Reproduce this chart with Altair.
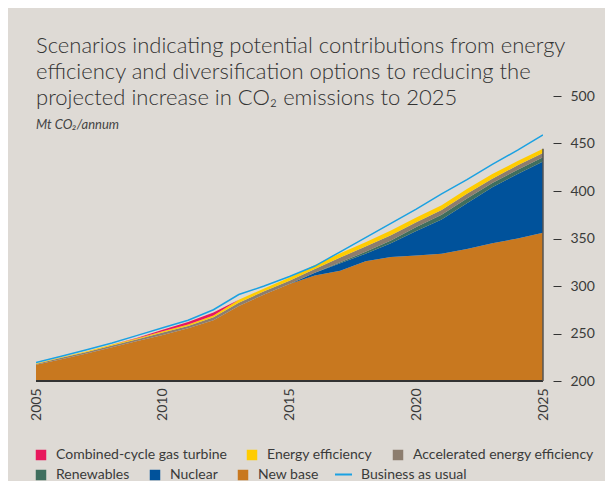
import altair as alt
import pandas as pd

# ---------------- data ----------------
years = list(range(2005, 2026))

new_base = [217, 223, 229, 235.5, 242, 248.5, 255.5, 264, 279, 291, 302,
            311, 316, 326, 330.5, 332, 334, 339, 345, 350, 356]
nuclear = [0, 0, 0, 0, 0, 0, 0, 0, 0, 0, 0,
           3, 8, 8, 14.5, 26, 36, 48, 59, 68, 75]
renewables = [0, 0, 0, 0, 0, 0, 0, 0, 0, 0, 0,
              0, 1, 2, 3, 4, 5, 5, 4.5, 4.5, 4.5]
accel_eff = [1, 1.5, 1.5, 2, 2, 2.5, 2.5, 3, 3.5, 3.5, 3.5,
             4, 5, 5.5, 5.5, 5, 5, 5, 4.5, 4.5, 4.5]
energy_eff = [0.5, 0.5, 0.7, 1, 1, 1.5, 1.5, 2, 3, 3, 3.5,
              4, 4.5, 4.5, 5, 5, 5, 5, 5, 4.5, 4.5]
ccgt = [0, 0, 0, 0, 0.5, 1.5, 2.5, 3, 0, 0, 0,
        0, 0, 0, 0, 0, 0, 0, 0, 0, 0]
business_as_usual = [219.5, 226, 233, 240, 248, 256, 264, 275, 291, 300, 310,
                     321, 336, 351, 366, 381, 397, 412, 428, 443, 459]

# legend rows (top-to-bottom stacking order follows the list order)
legend_row1 = ["Combined-cycle gas turbine", "Energy efficiency", "Accelerated energy efficiency"]
legend_row2 = ["Renewables", "Nuclear", "New base"]
colors_row1 = ["#e8175d", "#ffcc00", "#8c7d6e"]
colors_row2 = ["#3f6e5e", "#00529b", "#c8781f"]
series_names = legend_row1 + legend_row2
series_values = [ccgt, energy_eff, accel_eff, renewables, nuclear, new_base]
line_name = "Business as usual"
line_color = "#1ba1e2"

y_ticks = [200, 250, 300, 350, 400, 450, 500]
x_ticks = [2005, 2010, 2015, 2020, 2025]

title_lines = ["Scenarios indicating potential contributions from energy",
               "efficiency and diversification options to reducing the",
               "projected increase in CO₂ emissions to 2025"]
subtitle = "Mt CO₂/annum"

# ---------------- stacked table (New base at the bottom) ----------------
rows = []
running = [0.0] * len(years)
for name, vals in reversed(list(zip(series_names, series_values))):
    for i, (yr, v) in enumerate(zip(years, vals)):
        rows.append({"year": yr, "series": name, "lo": running[i], "hi": running[i] + v})
        running[i] += v
stack_df = pd.DataFrame(rows)
row1_df = stack_df[stack_df["series"].isin(legend_row1)]
row2_df = stack_df[stack_df["series"].isin(legend_row2)]

line_df = pd.DataFrame({"year": years, "value": business_as_usual, "series": line_name})

base_df = pd.DataFrame({"x": [years[0]], "x2": [years[-1]], "y": [y_ticks[0]]})
edge_df = pd.DataFrame({"x": [years[-1]], "y": [y_ticks[0]], "y2": [running[-1]]})

TEXT = "#3a3a3a"

x_scale = alt.Scale(domain=[years[0], years[-1]], nice=False, zero=False)
y_scale = alt.Scale(domain=[y_ticks[0], y_ticks[-1]], nice=False, zero=False)

x_axis = alt.Axis(values=x_ticks, format="d", labelAngle=270, ticks=False,
                  domain=False, grid=False, labelFontSize=14, labelColor=TEXT,
                  labelPadding=7, title=None)
y_axis = alt.Axis(orient="right", values=y_ticks, domain=False, grid=False,
                  offset=10, tickSize=8, tickColor="#333", labelFontSize=14,
                  labelColor=TEXT, labelPadding=9, title=None)


def fill_legend(y):
    return alt.Legend(title=None, orient="none", legendX=-2, legendY=y,
                      direction="horizontal", columns=3, symbolType="square",
                      symbolSize=110, symbolStrokeWidth=0, labelFontSize=14,
                      labelLimit=400, labelColor=TEXT, labelOffset=8,
                      columnPadding=18, padding=0)


area2 = alt.Chart(row2_df).mark_area(clip=True).encode(
    x=alt.X("year:Q", scale=x_scale, axis=x_axis),
    y=alt.Y("hi:Q", scale=y_scale, axis=y_axis),
    y2="lo:Q",
    fill=alt.Fill("series:N", scale=alt.Scale(domain=legend_row2, range=colors_row2),
                  legend=fill_legend(372)),
)

area1 = alt.Chart(row1_df).mark_area(clip=True).encode(
    x=alt.X("year:Q", scale=x_scale),
    y=alt.Y("hi:Q", scale=y_scale),
    y2="lo:Q",
    fill=alt.Fill("series:N", scale=alt.Scale(domain=legend_row1, range=colors_row1),
                  legend=fill_legend(352)),
)

line = alt.Chart(line_df).mark_line(strokeWidth=1.5, clip=True).encode(
    x=alt.X("year:Q", scale=x_scale),
    y=alt.Y("value:Q", scale=y_scale),
    stroke=alt.Stroke("series:N",
                      scale=alt.Scale(domain=[line_name], range=[line_color]),
                      legend=alt.Legend(title=None, orient="none", legendX=298, legendY=369,
                                        symbolType="stroke", symbolSize=289,
                                        symbolStrokeWidth=2, labelFontSize=14,
                                        labelLimit=400, labelColor=TEXT, labelOffset=8,
                                        padding=0)),
)

baseline = alt.Chart(base_df).mark_rule(color="#333", strokeWidth=2).encode(
    x="x:Q", x2="x2:Q", y="y:Q")
edge = alt.Chart(edge_df).mark_rule(color="#555", strokeWidth=1.5).encode(
    x="x:Q", y="y:Q", y2="y2:Q")

chart = alt.layer(area2, area1, line, baseline, edge).resolve_scale(
    fill="independent", stroke="independent"
).properties(
    width=507,
    height=285,
    autosize=alt.AutoSizeParams(type="none"),
    padding={"left": 28, "top": 88, "right": 62, "bottom": 100},
    background="#dedad5",
    title=alt.TitleParams(
        text=title_lines, subtitle=subtitle, anchor="start", frame="group",
        font="Lato", fontWeight=300, fontSize=22, lineHeight=26, color="#333",
        subtitleFont="Lato", subtitleFontStyle="italic", subtitleFontSize=13,
        subtitleColor="#444", subtitlePadding=9, offset=-44,
    ),
).configure(font="Lato").configure_view(stroke=None)

chart.save("out.html", embed_options={"renderer": "svg", "actions": False})
